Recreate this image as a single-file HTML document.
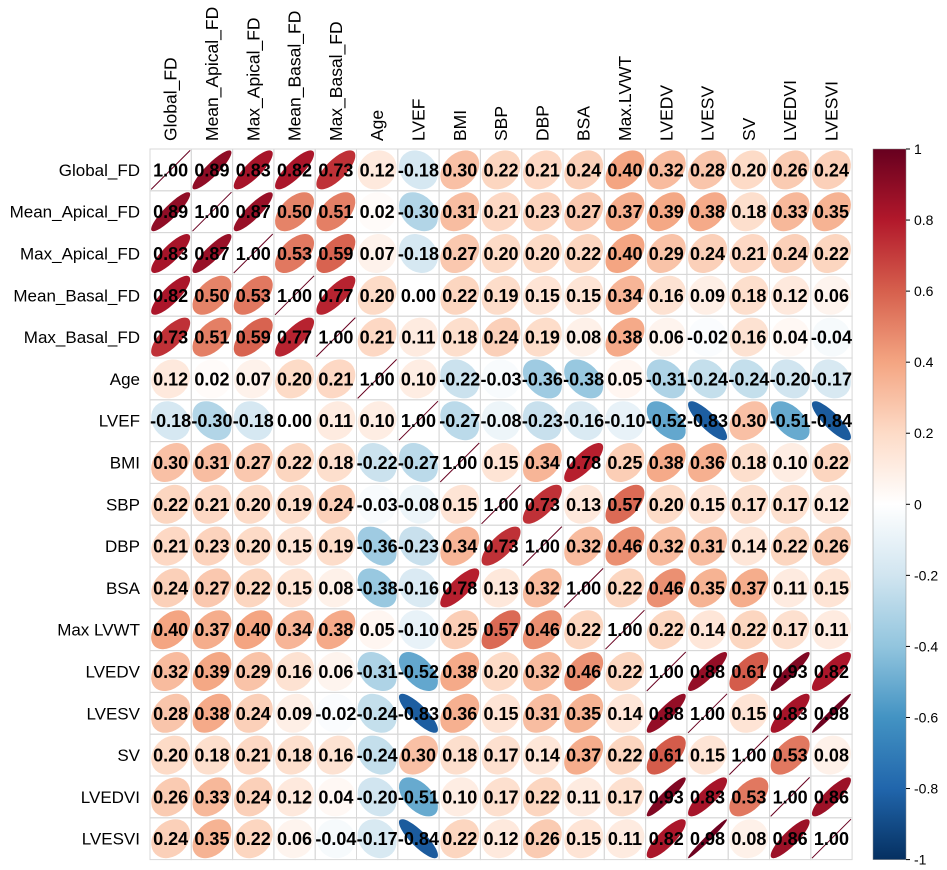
<!DOCTYPE html>
<html><head><meta charset="utf-8"><style>
body{margin:0;background:#fff;}
svg{display:block;font-family:"Liberation Sans",Arial,sans-serif;}
</style></head><body>
<svg id="chart" width="947" height="870" viewBox="0 0 947 870"></svg>
<script>
const labels=["Global_FD","Mean_Apical_FD","Max_Apical_FD","Mean_Basal_FD","Max_Basal_FD","Age","LVEF","BMI","SBP","DBP","BSA","Max.LVWT","LVEDV","LVESV","SV","LVEDVI","LVESVI"];
const rowLabels=["Global_FD","Mean_Apical_FD","Max_Apical_FD","Mean_Basal_FD","Max_Basal_FD","Age","LVEF","BMI","SBP","DBP","BSA","Max LVWT","LVEDV","LVESV","SV","LVEDVI","LVESVI"];
const corr=[
[1,.89,.83,.82,.73,.12,-.18,.30,.22,.21,.24,.40,.32,.28,.20,.26,.24],
[.89,1,.87,.50,.51,.02,-.30,.31,.21,.23,.27,.37,.39,.38,.18,.33,.35],
[.83,.87,1,.53,.59,.07,-.18,.27,.20,.20,.22,.40,.29,.24,.21,.24,.22],
[.82,.50,.53,1,.77,.20,.00,.22,.19,.15,.15,.34,.16,.09,.18,.12,.06],
[.73,.51,.59,.77,1,.21,.11,.18,.24,.19,.08,.38,.06,-.02,.16,.04,-.04],
[.12,.02,.07,.20,.21,1,.10,-.22,-.03,-.36,-.38,.05,-.31,-.24,-.24,-.20,-.17],
[-.18,-.30,-.18,.00,.11,.10,1,-.27,-.08,-.23,-.16,-.10,-.52,-.83,.30,-.51,-.84],
[.30,.31,.27,.22,.18,-.22,-.27,1,.15,.34,.78,.25,.38,.36,.18,.10,.22],
[.22,.21,.20,.19,.24,-.03,-.08,.15,1,.73,.13,.57,.20,.15,.17,.17,.12],
[.21,.23,.20,.15,.19,-.36,-.23,.34,.73,1,.32,.46,.32,.31,.14,.22,.26],
[.24,.27,.22,.15,.08,-.38,-.16,.78,.13,.32,1,.22,.46,.35,.37,.11,.15],
[.40,.37,.40,.34,.38,.05,-.10,.25,.57,.46,.22,1,.22,.14,.22,.17,.11],
[.32,.39,.29,.16,.06,-.31,-.52,.38,.20,.32,.46,.22,1,.88,.61,.93,.82],
[.28,.38,.24,.09,-.02,-.24,-.83,.36,.15,.31,.35,.14,.88,1,.15,.83,.98],
[.20,.18,.21,.18,.16,-.24,.30,.18,.17,.14,.37,.22,.61,.15,1,.53,.08],
[.26,.33,.24,.12,.04,-.20,-.51,.10,.17,.22,.11,.17,.93,.83,.53,1,.86],
[.24,.35,.22,.06,-.04,-.17,-.84,.22,.12,.26,.15,.11,.82,.98,.08,.86,1]];
const cbTicks=[1,0.8,0.6,0.4,0.2,0,-0.2,-0.4,-0.6,-0.8,-1];

const NS="http://www.w3.org/2000/svg";
const svg=document.getElementById("chart");
const X0=150,Y0=149,CW=41.3,CH=41.8,N=labels.length;
const cx=j=>X0+CW*(j+0.5), cy=i=>Y0+CH*(i+0.5);
const pal=["#053061","#2166AC","#4393C3","#92C5DE","#D1E5F0","#FFFFFF","#FDDBC7","#F4A582","#D6604D","#B2182B","#67001F"];
function color(r){
  let t=(r+1)/2*(pal.length-1);let k=Math.min(Math.floor(t),pal.length-2);let f=t-k;
  const a=pal[k],b=pal[k+1];const p=(h,i)=>parseInt(h.substr(1+2*i,2),16);
  let c=[0,1,2].map(i=>Math.round(p(a,i)*(1-f)+p(b,i)*f));
  return "rgb("+c.join(",")+")";
}
function el(tag,attrs){const e=document.createElementNS(NS,tag);for(const k in attrs)e.setAttribute(k,attrs[k]);svg.appendChild(e);return e;}

for(let i=0;i<N;i++)for(let j=0;j<N;j++){
  const r=el("rect",{x:X0+CW*j,y:Y0+CH*i,width:CW,height:CH,fill:"none",stroke:"#d8d8d8","stroke-width":1});
  
  
}
const K=19.5;
for(let i=0;i<N;i++)for(let j=0;j<N;j++){
  const v=corr[i][j];
  const x=cx(j),y=cy(i);
  if(Math.abs(v)>=0.999){
    const d=K;
    const ln=el("line",{x1:x-d,y1:y+d,x2:x+d,y2:y-d,stroke:color(v),"stroke-width":1});
    
    
  }else{
    const a=K*Math.sqrt(1+Math.abs(v)),b=K*Math.sqrt(1-Math.abs(v));
    const e=el("ellipse",{cx:x,cy:y,rx:a,ry:b,fill:color(v),transform:"rotate("+(v>=0?-45:45)+" "+x+" "+y+")"});
    
    
  }
  const t=el("text",{x:x,y:y+6.5,"text-anchor":"middle","font-size":18,"font-weight":"bold",fill:"#000"});
  t.textContent=v.toFixed(2);
  
  
}
for(let i=0;i<N;i++){
  const t=el("text",{x:140,y:cy(i)+6,"text-anchor":"end","font-size":17,fill:"#000"});
  t.textContent=rowLabels[i];
  
  
  const c=el("text",{x:0,y:0,"text-anchor":"start","font-size":17.5,fill:"#000",transform:"translate("+(cx(i)+6)+",141) rotate(-90)"});
  c.textContent=labels[i];
  
  
}
const CBX=873,CBW=33,CBT=Y0,CBB=Y0+CH*N;
const defs=el("defs",{});
const g=document.createElementNS(NS,"linearGradient");g.setAttribute("id","cbg");g.setAttribute("x1","0");g.setAttribute("y1","1");g.setAttribute("x2","0");g.setAttribute("y2","0");
pal.forEach((c,k)=>{const s=document.createElementNS(NS,"stop");s.setAttribute("offset",k/(pal.length-1));s.setAttribute("stop-color",c);g.appendChild(s);});
defs.appendChild(g);
const cb=el("rect",{x:CBX,y:CBT,width:CBW,height:CBB-CBT,fill:"url(#cbg)",stroke:"#888","stroke-width":0.5});


const cyb=v=>CBT+(1-v)/2*(CBB-CBT);
cbTicks.forEach(v=>{
  const y=cyb(v);
  const tk=el("line",{x1:CBX+CBW,x2:CBX+CBW+4,y1:y,y2:y,stroke:"#000","stroke-width":1});
  
  
  const t=el("text",{x:CBX+CBW+8,y:y+5,"font-size":14,fill:"#000"});
  t.textContent=String(v);
  
  
});
</script>
</body></html>
